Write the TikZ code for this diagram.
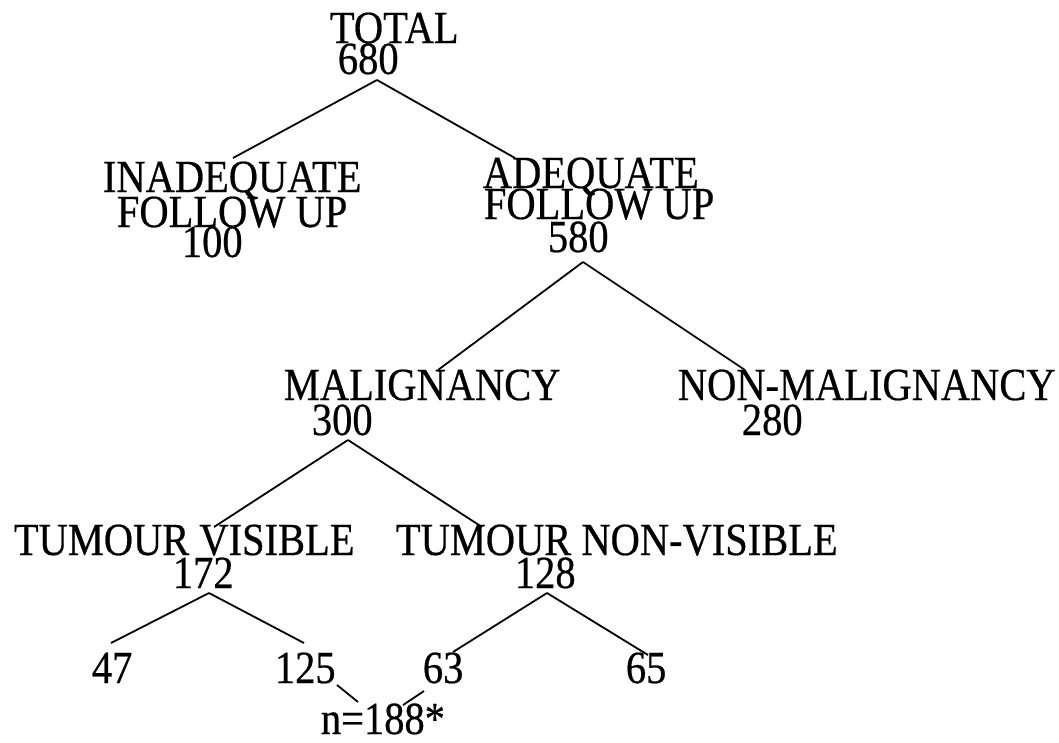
\documentclass[tikz,border=0pt]{standalone}
\usepackage{fontspec}
\setmainfont[FakeStretch=0.88, FakeBold=0.5]{Liberation Serif}
\usepackage{tikz}

\begin{document}
\begin{tikzpicture}[x=1pt, y=-1pt, line width=1.8pt]
\useasboundingbox (0,0) rectangle (1059,742);
\tikzstyle{every node} = [anchor=base west, inner sep=0pt, font=\fontsize{46}{32}\selectfont]
% level 0
\node (total) at (329,43) {TOTAL};
\node (totaln) at (337,74) {680};
% level 1
\node (inadeq) at (102,192) {INADEQUATE};
\node (inadeqf) at (116,227) {FOLLOW UP};
\node (inadeqn) at (181,257) {100};
\node (adeq) at (482,188) {ADEQUATE};
\node (adeqf) at (483,219) {FOLLOW UP};
\node (adeqn) at (547,252) {580};
% level 2
\node (malig) at (283,400) {MALIGNANCY};
\node (maligx) at (311,435) {300};
\node (nonmal) at (677,400) {NON-MALIGNANCY};
\node (nonmaln) at (741,435) {280};
% level 3
\node (vis) at (13,555) {TUMOUR VISIBLE};
\node (visn) at (172,588) {172};
\node (nonvis) at (395,555) {TUMOUR NON-VISIBLE};
\node (nonvisn) at (514,588) {128};
% leaves
\node (a47) at (91,683) {47};
\node (a125) at (274,683) {125};
\node (a63) at (422,683) {63};
\node (a65) at (625,683) {65};
\node (sum) at (320,734) {n=188*};
% branch points
\coordinate (t0) at (377,80);
\coordinate (t1) at (233,158);
\coordinate (t2) at (515,158);
\coordinate (f0) at (583,262);
\coordinate (f1) at (438,370);
\coordinate (f2) at (745,370);
\coordinate (m0) at (348,440);
\coordinate (m1) at (214,527);
\coordinate (m2) at (482,527);
\coordinate (v0) at (209,593);
\coordinate (v1) at (111,643);
\coordinate (v2) at (304,643);
\coordinate (w0) at (547,593);
\coordinate (w1) at (453,652);
\coordinate (w2) at (648,655);
\coordinate (s1) at (337,685);
\coordinate (s2) at (358,702);
\coordinate (s3) at (424,691);
\coordinate (s4) at (403,705);
\draw (t0) -- (t1);
\draw (t0) -- (t2);
\draw (f0) -- (f1);
\draw (f0) -- (f2);
\draw (m0) -- (m1);
\draw (m0) -- (m2);
\draw (v0) -- (v1);
\draw (v0) -- (v2);
\draw (w0) -- (w1);
\draw (w0) -- (w2);
\draw (s1) -- (s2);
\draw (s3) -- (s4);
\end{tikzpicture}
\end{document}
